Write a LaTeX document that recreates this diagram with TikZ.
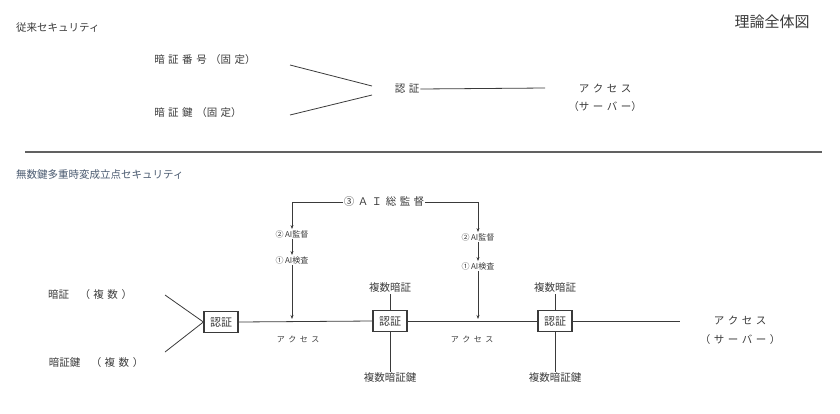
\documentclass[tikz,border=0pt]{standalone}
\usepackage{fontspec}
\usetikzlibrary{arrows.meta}
\setmainfont{Noto Sans CJK JP}
\definecolor{ink}{HTML}{3A3A3A}
\definecolor{blu}{HTML}{4A5A70}
\newcommand\gp{\hspace{3.5pt}}
\begin{document}
\begin{tikzpicture}[x=1pt,y=-1pt,
  every node/.style={text=ink,inner sep=1pt},
  t/.style={font=\fontsize{10.5}{12}\selectfont},
  s/.style={font=\fontsize{8}{9}\selectfont},
  ln/.style={draw=ink,line width=0.8pt},
  ar/.style={ln,-{Stealth[length=4pt,width=3pt]}},
  bx/.style={draw=ink,line width=1.2pt,inner sep=3pt,minimum width=34pt,minimum height=21pt,font=\fontsize{11}{12}\selectfont}]
\useasboundingbox (0,0) rectangle (840,413);
\node[t,anchor=west] (h1) at (15,28) {従来セキュリティ};
\node[font=\fontsize{15}{16}\selectfont] (title) at (772,22) {理論全体図};
\node[t] (a1) at (205,60) {暗\gp 証\gp 番\gp 号\gp （固\gp 定）};
\node[t] (a2) at (198,113) {暗\gp 証\gp 鍵\gp （固\gp 定）};
\node[t] (n1) at (407,89) {認\gp 証};
\node[t] (ac1) at (605,88) {ア\gp ク\gp セ\gp ス};
\node[t] (sv1) at (605,107) {（サ\gp ー\gp バ\gp ー）};
\coordinate (e1) at (290,65); \coordinate (e2) at (290,115);
\coordinate (f1) at (372,86); \coordinate (f2) at (372,95);
\draw[ln] (e1) -- (f1);
\draw[ln] (e2) -- (f2);
\draw[ln] (n1.east) -- (ac1.west-|545,0);
\draw[draw=ink!80,line width=1.6pt] (25,152) -- (822,152);
\node[t,anchor=west,text=blu] (h2) at (15,175) {無数鍵多重時変成立点セキュリティ};
\node[t] (sup) at (384,202) {③\gp Ａ\gp Ｉ\gp 総\gp 監\gp 督};
\coordinate (c1) at (292,202); \coordinate (c2) at (478,202);
\node[s] (m1) at (292,234) {②\,AI監督};
\node[s] (k1) at (292,260) {①\,AI検査};
\node[s] (m2) at (478,237) {②\,AI監督};
\node[s] (k2) at (478,266) {①\,AI検査};
\draw[ar] (sup.west) -- (c1) -- (m1.north);
\draw[ar] (sup.east) -- (c2) -- (m2.north);
\draw[ar] (m1) -- (k1);
\draw[ar] (m2) -- (k2);
\node[t] (p1) at (90,295) {暗証\quad（\gp 複\gp 数\gp ）};
\node[t] (p2) at (96,363) {暗証鍵\quad（\gp 複\gp 数\gp ）};
\node[bx] (b1) at (221,322) {認証};
\node[bx] (b2) at (390,321) {認証};
\node[bx] (b3) at (555,321) {認証};
\draw[ln] (165,295) -- (b1.west);
\draw[ln] (165,352) -- (b1.west);
\draw[ln] (b1.east) -- (b2.west);
\draw[ln] (b2.east) -- (b3.west);
\node[t] (ac3) at (740,320) {ア\gp ク\gp セ\gp ス};
\node[t] (sv3) at (740,340) {（\gp サ\gp ー\gp バ\gp ー\gp ）};
\draw[ln] (b3.east) -- (680,321);
\draw[ar] (k1.south) -- (292,319);
\draw[ar] (k2.south) -- (478,319);
\node[s] (x1) at (298,339) {ア\gp ク\gp セ\gp ス};
\node[s] (x2) at (472,339) {ア\gp ク\gp セ\gp ス};
\node[t] (u2) at (390,288) {複数暗証};
\node[t] (d2) at (390,378) {複数暗証鍵};
\node[t] (u3) at (555,288) {複数暗証};
\node[t] (d3) at (555,378) {複数暗証鍵};
\draw[ln] (u2) -- (b2);
\draw[ln] (b2) -- (d2);
\draw[ln] (u3) -- (b3);
\draw[ln] (b3) -- (d3);
\end{tikzpicture}
\end{document}
